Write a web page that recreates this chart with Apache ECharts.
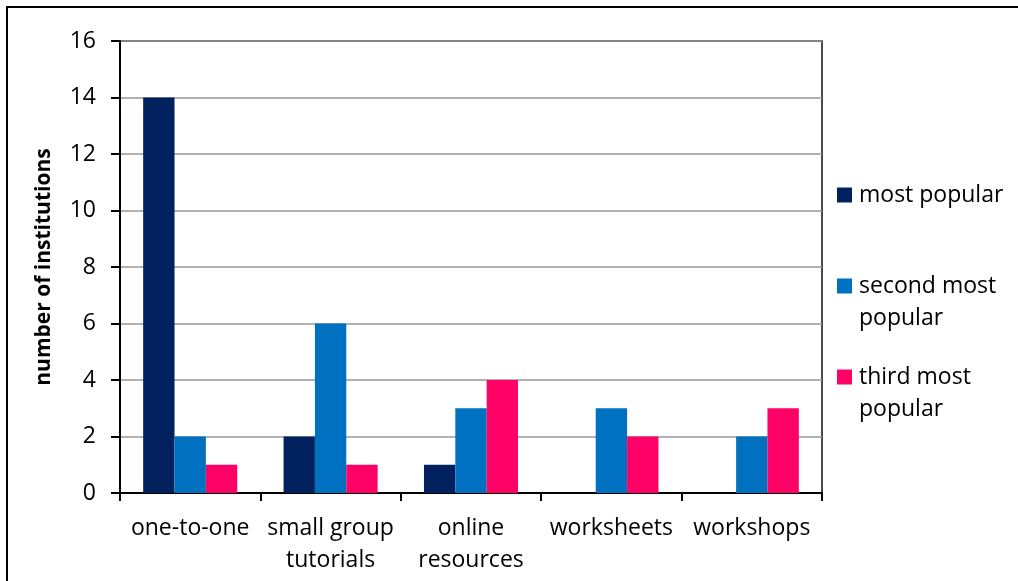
<!DOCTYPE html>
<html>
<head>
<meta charset="utf-8">
<script src="https://cdn.jsdelivr.net/npm/echarts@6/dist/echarts.min.js"></script>
<style>
  html, body { margin: 0; padding: 0; background: #fff; }
  #chart { width: 1018px; height: 581px; }
</style>
</head>
<body>
<div id="chart"></div>
<script>
var categories = ['one-to-one', 'small group\ntutorials', 'online\nresources', 'worksheets', 'workshops'];
var mostPopular = [14, 2, 1, 0, 0];
var secondPopular = [2, 6, 3, 3, 2];
var thirdPopular = [1, 1, 4, 2, 3];
var yTicks = { min: 0, max: 16, interval: 2 };

(function setbar(){
    var chart = echarts.init(document.getElementById('chart'));
    var font = '"Open Sans", "Noto Sans", sans-serif';
    var legendText = {
        'most popular': 'most popular',
        'second most popular': '\nsecond most\npopular',
        'third most popular': '\nthird most\npopular'
    };
    function legendAt(name, top){
        return {
            data: [name],
            orient: 'vertical',
            left: 837,
            top: top,
            padding: 0,
            itemWidth: 15,
            itemHeight: 15,
            icon: 'rect',
            formatter: function (n) { return legendText[n]; },
            textStyle: { fontFamily: font, fontSize: 23, lineHeight: 32, color: '#000', padding: [0, 0, 0, 2] },
            selectedMode: false
        };
    }
    var option = {
        animation: false,
        backgroundColor: '#fff',
        graphic: [{
            type: 'rect',
            shape: { x: 7, y: 7, width: 1200, height: 800 },
            style: { fill: 'none', stroke: '#000', lineWidth: 2 },
            silent: true
        }],
        grid: { left: 120, top: 41, right: 196, bottom: 88, show: true, borderColor: '#111', borderWidth: 1.5, backgroundColor: 'transparent' },
        legend: [
            legendAt('most popular', 179),
            legendAt('second most popular', 238),
            legendAt('third most popular', 329)
        ],
        xAxis: {
            type: 'category',
            data: categories,
            axisLine: { lineStyle: { color: '#000', width: 2 } },
            axisTick: { show: true, length: 8, lineStyle: { color: '#000', width: 2 } },
            axisLabel: { interval: 0, margin: 19, fontFamily: font, fontSize: 23, lineHeight: 32, color: '#000' }
        },
        yAxis: {
            type: 'value',
            min: yTicks.min,
            max: yTicks.max,
            interval: yTicks.interval,
            name: 'number of institutions',
            nameLocation: 'middle',
            nameRotate: 90,
            nameGap: 65,
            nameTextStyle: { fontFamily: font, fontSize: 21, fontWeight: 'bold', color: '#000' },
            axisLine: { show: true, lineStyle: { color: '#000', width: 2 } },
            axisTick: { show: true, length: 9, lineStyle: { color: '#000', width: 2 } },
            axisLabel: { margin: 24, fontFamily: font, fontSize: 23, color: '#000' },
            splitLine: { show: true, lineStyle: { color: '#999', width: 1.5 } }
        },
        series: [
            { name: 'most popular', type: 'bar', data: mostPopular, barGap: '0%', barCategoryGap: '33%', itemStyle: { color: '#00215E' } },
            { name: 'second most popular', type: 'bar', data: secondPopular, itemStyle: { color: '#0070C0' } },
            { name: 'third most popular', type: 'bar', data: thirdPopular, itemStyle: { color: '#FF0066' } }
        ]
    };
    chart.setOption(option);
})();
</script>
</body>
</html>
